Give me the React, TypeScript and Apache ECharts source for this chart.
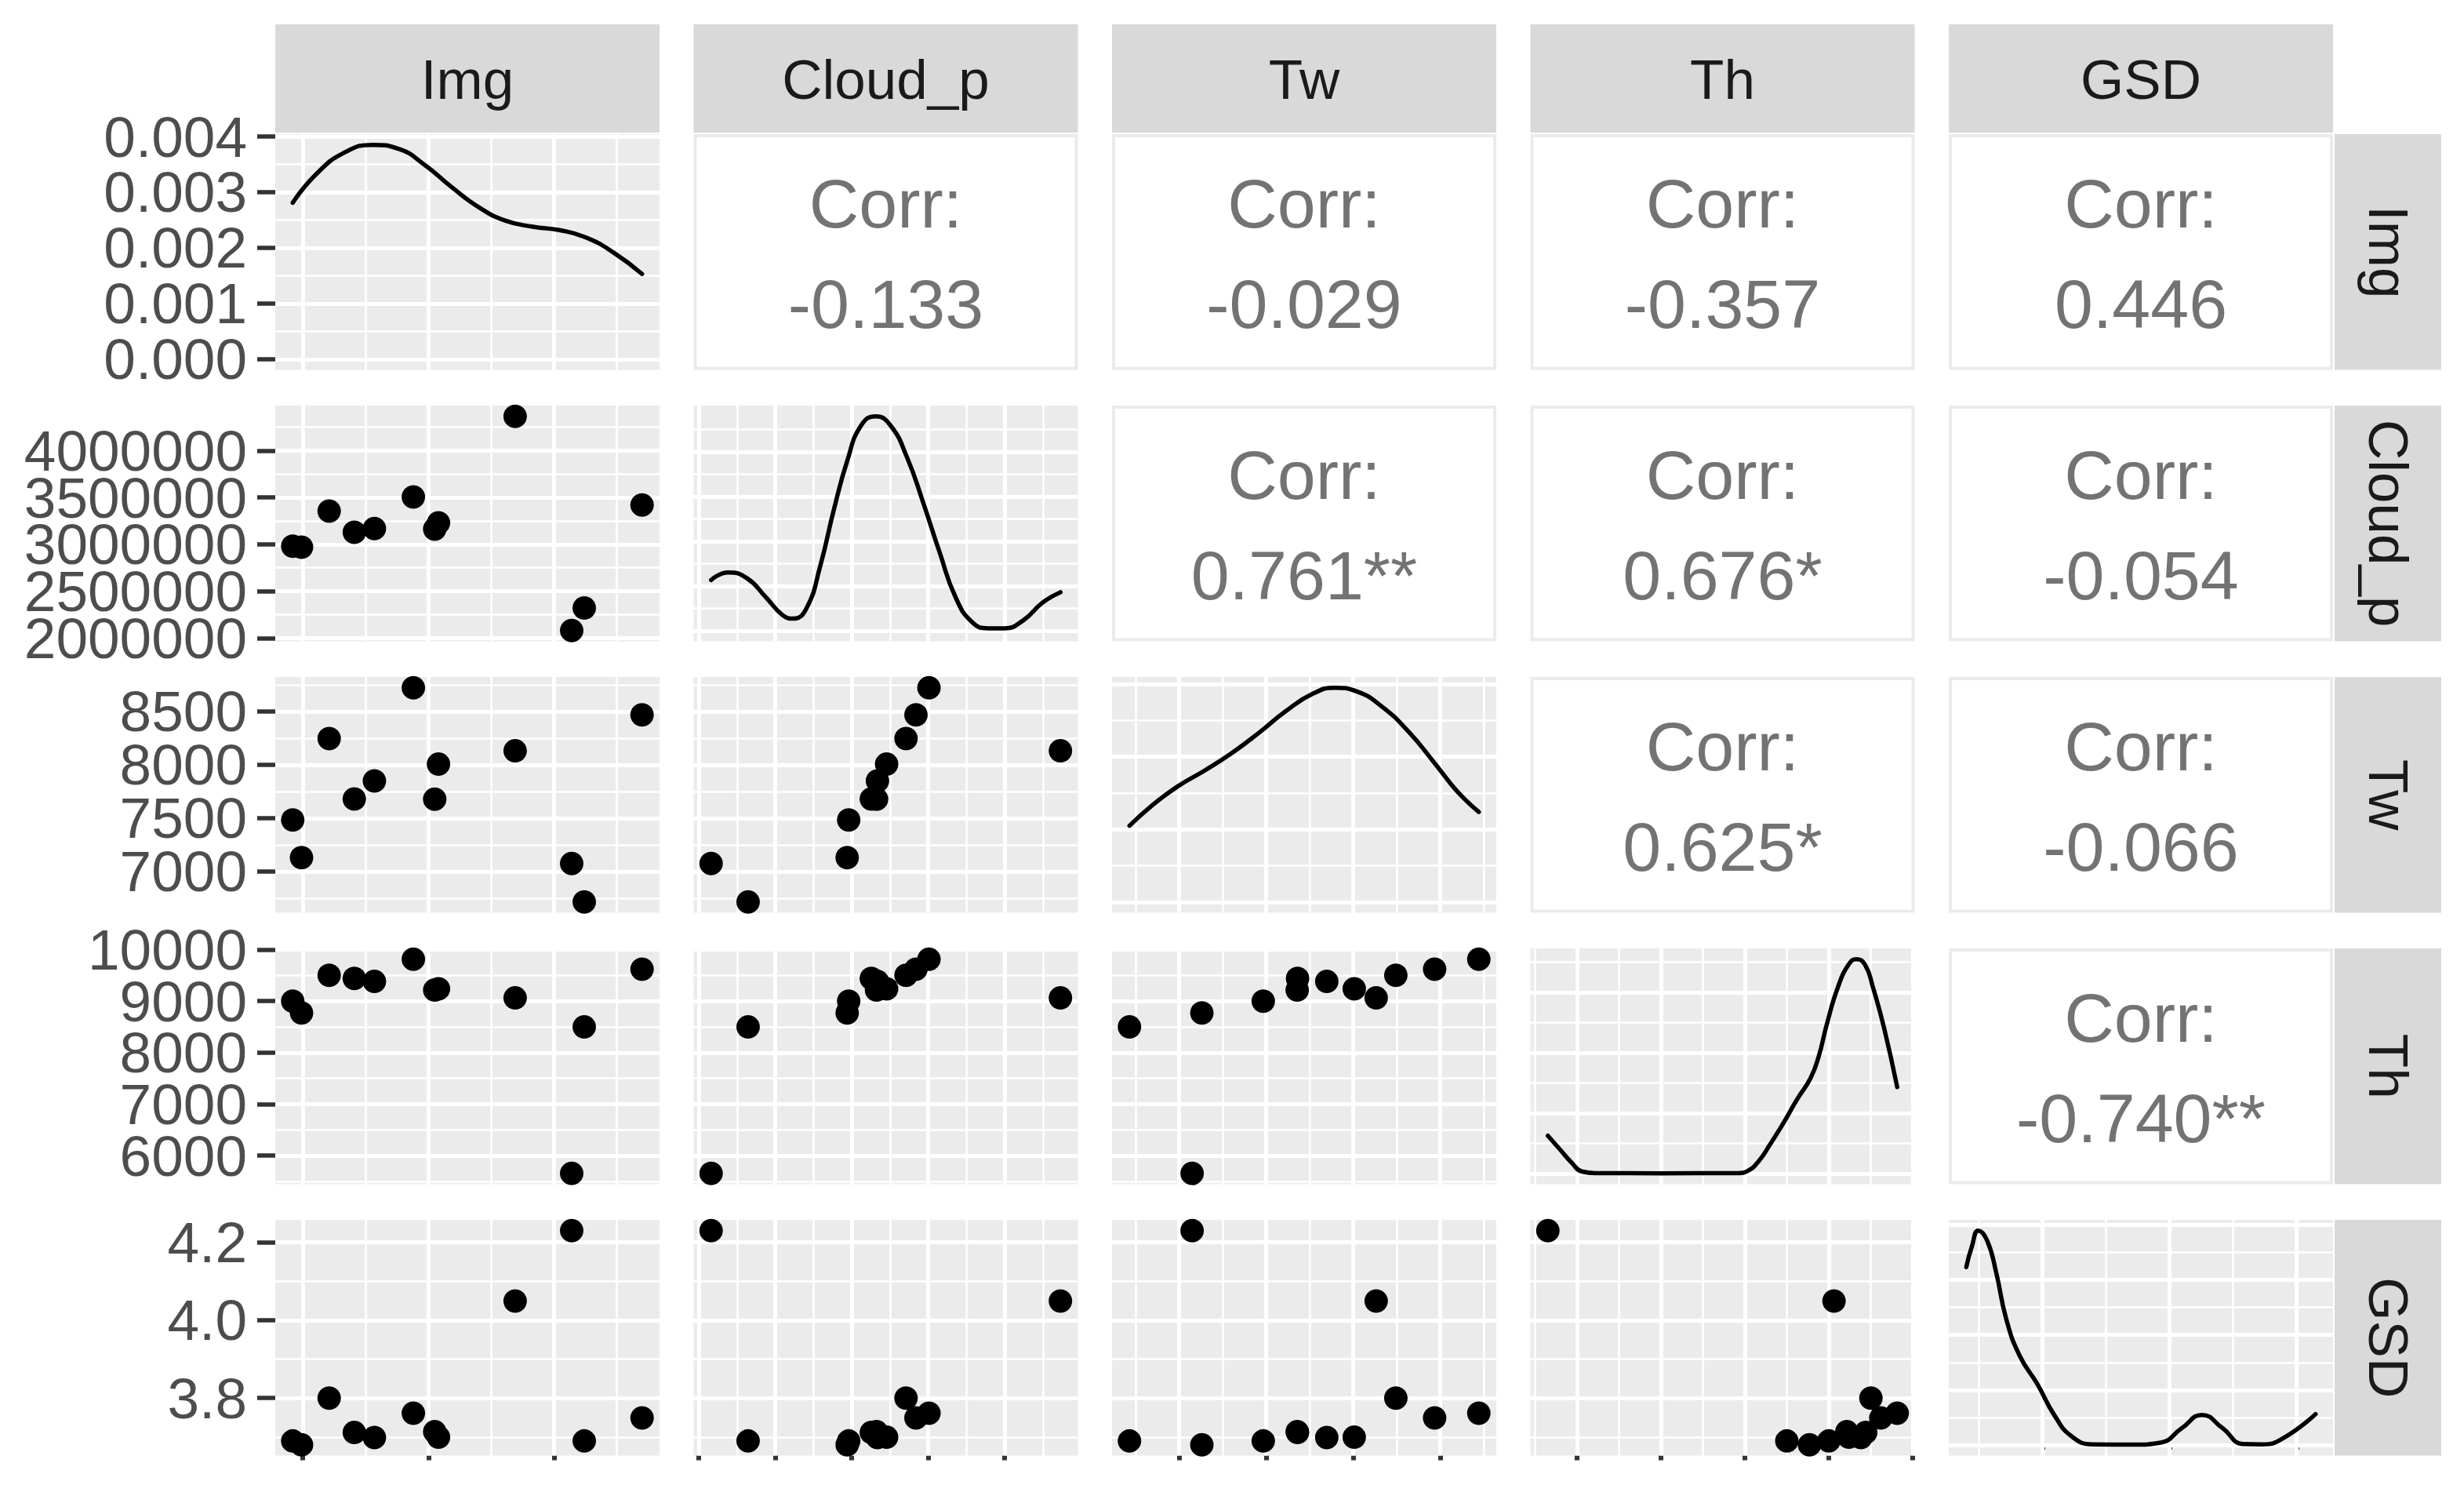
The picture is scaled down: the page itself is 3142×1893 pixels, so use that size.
import React, { useEffect, useRef } from "react";
import * as echarts from "echarts";

// ---------------- data ----------------
const varNames = ["Img", "Cloud_p", "Tw", "Th", "GSD"];

const img = [92, 99, 121, 141, 157, 188, 205, 208, 269, 314, 324, 370];
const cloudP = [2980000, 2970000, 3355000, 3128000, 3168000, 3505000, 3162000, 3228000, 4365000, 2080000, 2322000, 3420000];
const tw = [7483, 7130, 8245, 7680, 7848, 8722, 7678, 8006, 8132, 7074, 6714, 8468];
const th = [9000, 8770, 9502, 9440, 9382, 9815, 9215, 9240, 9062, 5652, 8500, 9620];
const gsd = [3.69, 3.68, 3.8, 3.712, 3.699, 3.761, 3.714, 3.7, 4.049, 4.23, 3.69, 3.749];

// axis breaks (major / minor) for each variable
const imgMajor = [100, 200, 300];
const imgMinor = [150, 250, 350];
const cloudMajor = [2000000, 2500000, 3000000, 3500000, 4000000];
const cloudMinor = [2250000, 2750000, 3250000, 3750000, 4250000];
const twMajor = [7000, 7500, 8000, 8500];
const twMinor = [6750, 7250, 7750, 8250, 8750];
const thMajor = [6000, 7000, 8000, 9000, 10000];
const thMinor = [5500, 6500, 7500, 8500, 9500];
const gsdMajor = [3.8, 4.0, 4.2];
const gsdMinor = [3.7, 3.9, 4.1];

// density curves on the diagonal
const imgDensX = [92, 111, 133, 156, 176, 197, 218, 240, 261, 283, 304, 325, 347, 370];
const imgDensY = [0.00281, 0.00333, 0.00371, 0.00385, 0.00378, 0.00349, 0.0031, 0.00273, 0.00249, 0.00238, 0.00232, 0.00219, 0.00192, 0.00153];

const cloudDensX = [2080000, 2191000, 2315000, 2440000, 2546000, 2617000, 2705000, 2794000, 2883000, 2971000, 3060000, 3157000, 3255000, 3361000, 3468000, 3574000, 3680000, 3787000, 3893000, 3999000, 4123000, 4247000, 4365000];
const cloudDensY = [2.83e-7, 3.26e-7, 2.93e-7, 1.85e-7, 0.88e-7, 0.67e-7, 1.27e-7, 3.62e-7, 6.77e-7, 9.52e-7, 11.47e-7, 12.0e-7, 11.47e-7, 9.71e-7, 7.15e-7, 4.4e-7, 1.85e-7, 0.48e-7, 0.13e-7, 0.13e-7, 0.58e-7, 1.56e-7, 2.15e-7];

const twDensX = [6714, 6834, 6990, 7146, 7302, 7458, 7614, 7770, 7895, 8020, 8160, 8316, 8472, 8597, 8722];
const twDensY = [2.1e-4, 2.62e-4, 3.18e-4, 3.62e-4, 4.1e-4, 4.66e-4, 5.26e-4, 5.74e-4, 5.9e-4, 5.8e-4, 5.4e-4, 4.7e-4, 3.8e-4, 3.05e-4, 2.48e-4];

const thDensX = [5652, 5804, 5934, 6063, 6224, 7000, 7909, 8038, 8168, 8297, 8459, 8621, 8783, 8880, 8977, 9106, 9236, 9327, 9431, 9528, 9657, 9815];
const thDensY = [1.25e-4, 0.77e-4, 0.36e-4, 0.06e-4, 0.01e-4, 0.005e-4, 0.01e-4, 0.09e-4, 0.42e-4, 0.95e-4, 1.67e-4, 2.45e-4, 3.16e-4, 3.88e-4, 4.95e-4, 6.15e-4, 6.92e-4, 7.1e-4, 6.92e-4, 6.15e-4, 4.84e-4, 2.86e-4];

const gsdDensX = [3.68, 3.689, 3.699, 3.713, 3.727, 3.743, 3.764, 3.792, 3.819, 3.846, 3.879, 3.944, 3.986, 4.019, 4.051, 4.084, 4.116, 4.146, 4.181, 4.23];
const gsdDensY = [6.47, 7.23, 7.8, 7.43, 6.29, 4.58, 3.25, 2.21, 1.07, 0.31, 0.02, 0.01, 0.08, 0.6, 1.09, 0.6, 0.03, 0.02, 0.27, 1.12];

// density axis breaks
const imgDensMajor = [0, 0.001, 0.002, 0.003, 0.004];
const imgDensMinor = [0.0005, 0.0015, 0.0025, 0.0035];
const cloudDensMajor = [0, 2.5e-7, 5e-7, 7.5e-7, 1e-6];
const cloudDensMinor = [1.25e-7, 3.75e-7, 6.25e-7, 8.75e-7, 1.125e-6];
const twDensMajor = [0, 2e-4, 4e-4, 6e-4];
const twDensMinor = [1e-4, 3e-4, 5e-4];
const thDensMajor = [0, 2e-4, 4e-4, 6e-4];
const thDensMinor = [1e-4, 3e-4, 5e-4, 7e-4];
const gsdDensMajor = [0, 2, 4, 6, 8];
const gsdDensMinor = [1, 3, 5, 7];

// correlation labels (upper triangle, by row)
const corrRow1 = ["-0.133", "-0.029", "-0.357", "0.446"];
const corrRow2 = ["0.761**", "0.676*", "-0.054"];
const corrRow3 = ["0.625*", "-0.066"];
const corrRow4 = ["-0.740**"];

// ---------------- layout / style ----------------
const W = 3142;
const H = 1893;
const COL_L = 351;
const COL_PITCH = 533.5;
const PANEL_W = 490;
const ROW_T = 171;
const ROW_PITCH = 346;
const PANEL_H = 300.5;
const STRIP_TOP = 31;
const STRIP_H = 138;
const RSTRIP_X = 2977;
const RSTRIP_W = 136;
const FONT = "'Liberation Sans', Arial, sans-serif";
const MAJOR_W = 5;
const MINOR_W = 2.6;

function buildOption() {
  const vars = [img, cloudP, tw, th, gsd];
  const majors = [imgMajor, cloudMajor, twMajor, thMajor, gsdMajor];
  const minors = [imgMinor, cloudMinor, twMinor, thMinor, gsdMinor];
  const densX = [imgDensX, cloudDensX, twDensX, thDensX, gsdDensX];
  const densY = [imgDensY, cloudDensY, twDensY, thDensY, gsdDensY];
  const densMajor = [imgDensMajor, cloudDensMajor, twDensMajor, thDensMajor, gsdDensMajor];
  const densMinor = [imgDensMinor, cloudDensMinor, twDensMinor, thDensMinor, gsdDensMinor];
  const corr = [corrRow1, corrRow2, corrRow3, corrRow4];
  const fmts: ((v: number) => string)[] = [
    (v) => String(v),
    (v) => String(Math.round(v)),
    (v) => String(v),
    (v) => String(v),
    (v) => v.toFixed(1),
  ];

  const expand = (arr: number[]) => {
    const mn = Math.min(...arr);
    const mx = Math.max(...arr);
    const s = (mx - mn) * 0.05;
    return [mn - s, mx + s];
  };
  const ranges = vars.map(expand);

  const grids: any[] = [];
  const xAxes: any[] = [];
  const yAxes: any[] = [];
  const series: any[] = [];
  const graphics: any[] = [];

  const colX = (j: number) => COL_L + j * COL_PITCH;
  const rowY = (i: number) => ROW_T + i * ROW_PITCH;

  const markLines = (xMaj: number[], xMin: number[], yMaj: number[], yMin: number[]) => ({
    silent: true,
    symbol: ["none", "none"],
    z: 1,
    precision: 20,
    animation: false,
    label: { show: false },
    emphasis: { disabled: true },
    lineStyle: { color: "#FFFFFF", type: "solid", width: MAJOR_W, opacity: 1 },
    data: [
      ...xMin.map((v) => ({ xAxis: v, lineStyle: { width: MINOR_W, color: "#FFFFFF", type: "solid" } })),
      ...yMin.map((v) => ({ yAxis: v, lineStyle: { width: MINOR_W, color: "#FFFFFF", type: "solid" } })),
      ...xMaj.map((v) => ({ xAxis: v, lineStyle: { width: MAJOR_W, color: "#FFFFFF", type: "solid" } })),
      ...yMaj.map((v) => ({ yAxis: v, lineStyle: { width: MAJOR_W, color: "#FFFFFF", type: "solid" } })),
    ],
  });

  const makeYAxis = (g: number, mn: number, mx: number, values: number[], fmt: (v: number) => string, show: boolean) => ({
    type: "value",
    gridIndex: g,
    position: "left",
    offset: 0,
    min: mn,
    max: mx,
    axisLine: { show: false },
    splitLine: { show: false },
    axisTick: {
      show,
      interval: 0,
      customValues: values,
      length: 23,
      lineStyle: { color: "#333333", width: 5.5 },
    },
    axisLabel: {
      show,
      interval: 0,
      customValues: values,
      formatter: fmt,
      showMinLabel: true,
      showMaxLabel: true,
      hideOverlap: false,
      fontSize: 73,
      lineHeight: 56,
      fontFamily: FONT,
      color: "#4D4D4D",
      margin: 36,
    },
  });

  for (let i = 0; i < 5; i++) {
    for (let j = 0; j < 5; j++) {
      const left = colX(j);
      const top = rowY(i);
      if (j > i) {
        // correlation panel
        graphics.push({
          type: "rect",
          z: 5,
          shape: { x: left + 2, y: top + 2, width: PANEL_W - 4, height: PANEL_H - 4 },
          style: { fill: "#FFFFFF", stroke: "#EBEBEB", lineWidth: 4 },
        });
        graphics.push({
          type: "text",
          z: 6,
          x: left + PANEL_W / 2,
          y: top + PANEL_H / 2 + 2,
          style: {
            text: "Corr:\n" + corr[i][j - i - 1],
            align: "center",
            verticalAlign: "middle",
            lineHeight: 128,
            fontSize: 88,
            fontFamily: FONT,
            fill: "#737373",
          },
        });
        continue;
      }
      const g = grids.length;
      grids.push({
        left,
        top,
        width: PANEL_W,
        height: PANEL_H,
        show: true,
        backgroundColor: "#EBEBEB",
        borderWidth: 0,
        containLabel: false,
      });
      const xIdx = xAxes.length;
      xAxes.push({
        type: "value",
        gridIndex: g,
        min: ranges[j][0],
        max: ranges[j][1],
        axisLine: { show: false },
        splitLine: { show: false },
        axisTick: {
          show: i === 4,
          interval: 0,
          customValues: majors[j],
          length: 6,
          lineStyle: { color: "#333333", width: 6 },
        },
        axisLabel: { show: false },
      });
      const isDiag = i === j;
      let yMin: number;
      let yMax: number;
      let yMaj: number[];
      let yMinr: number[];
      let yFmt: (v: number) => string;
      if (isDiag) {
        const peak = Math.max(...densY[j]);
        yMin = -0.05 * peak;
        yMax = 1.05 * peak;
        yMaj = densMajor[j];
        yMinr = densMinor[j];
        yFmt = (v) => v.toFixed(3);
      } else {
        yMin = ranges[i][0];
        yMax = ranges[i][1];
        yMaj = majors[i];
        yMinr = minors[i];
        yFmt = fmts[i];
      }
      const yIdx = yAxes.length;
      if (j === 0) {
        // split labels over two axes so that tightly packed labels are all kept
        const even = yMaj.filter((_, k) => k % 2 === 0);
        const odd = yMaj.filter((_, k) => k % 2 === 1);
        yAxes.push(makeYAxis(g, yMin, yMax, even, yFmt, true));
        yAxes.push(makeYAxis(g, yMin, yMax, odd, yFmt, true));
      } else {
        yAxes.push(makeYAxis(g, yMin, yMax, yMaj, yFmt, false));
      }
      const ml = markLines(majors[j], minors[j], yMaj, yMinr);
      if (isDiag) {
        series.push({
          type: "line",
          xAxisIndex: xIdx,
          yAxisIndex: yIdx,
          data: densX[j].map((x, k) => [x, densY[j][k]]),
          showSymbol: false,
          symbol: "none",
          smooth: 0.5,
          lineStyle: { color: "#000000", width: 5.5, cap: "round", join: "round" },
          silent: true,
          z: 3,
          markLine: ml,
        });
      } else {
        series.push({
          type: "scatter",
          xAxisIndex: xIdx,
          yAxisIndex: yIdx,
          data: vars[j].map((x, k) => [x, vars[i][k]]),
          symbol: "circle",
          symbolSize: 30,
          itemStyle: { color: "#000000", opacity: 1 },
          silent: true,
          z: 3,
          markLine: ml,
        });
      }
    }
  }

  // top strips
  for (let j = 0; j < 5; j++) {
    const left = colX(j);
    graphics.push({
      type: "rect",
      z: 5,
      shape: { x: left, y: STRIP_TOP, width: PANEL_W, height: STRIP_H },
      style: { fill: "#D9D9D9" },
    });
    graphics.push({
      type: "text",
      z: 6,
      x: left + PANEL_W / 2,
      y: STRIP_TOP + STRIP_H / 2 + 1,
      style: {
        text: varNames[j],
        align: "center",
        verticalAlign: "middle",
        fontSize: 71,
        fontFamily: FONT,
        fill: "#1A1A1A",
      },
    });
  }
  // right strips
  for (let i = 0; i < 5; i++) {
    const top = rowY(i);
    graphics.push({
      type: "rect",
      z: 5,
      shape: { x: RSTRIP_X, y: top, width: RSTRIP_W, height: PANEL_H },
      style: { fill: "#D9D9D9" },
    });
    graphics.push({
      type: "text",
      z: 6,
      x: RSTRIP_X + RSTRIP_W / 2,
      y: top + PANEL_H / 2,
      rotation: -Math.PI / 2,
      style: {
        text: varNames[i],
        align: "center",
        verticalAlign: "middle",
        fontSize: 71,
        fontFamily: FONT,
        fill: "#1A1A1A",
      },
    });
  }

  return {
    animation: false,
    backgroundColor: "#FFFFFF",
    grid: grids,
    xAxis: xAxes,
    yAxis: yAxes,
    series,
    graphic: { elements: graphics },
  };
}

export default function App() {
  const ref = useRef<HTMLDivElement>(null);
  useEffect(() => {
    if (!ref.current) return;
    const chart = echarts.init(ref.current, null, { renderer: "svg", width: W, height: H });
    chart.setOption(buildOption() as any);
    return () => {
      chart.dispose();
    };
  }, []);
  return (
    <div
      ref={ref}
      style={{ position: "fixed", left: 0, top: 0, width: W, height: H, background: "#FFFFFF" }}
    />
  );
}
